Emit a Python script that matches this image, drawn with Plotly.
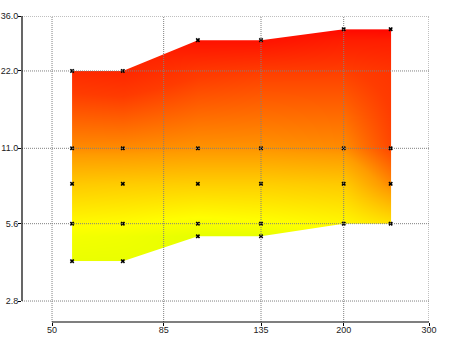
import plotly.graph_objects as go
import math

# ---- data ----
x_ticks = [50, 85, 135, 200, 300]
x_ticktext = ["50", "85", "135", "200", "300"]
y_ticks = [2.8, 5.6, 11.0, 22.0, 36.0]
y_ticktext = ["2.8", "5.6", "11.0", "22.0", "36.0"]

col_x = [55, 70, 100, 135, 200, 250]
col_y = [
    [4.0, 5.6, 8.0, 11.0, 22.0],
    [4.0, 5.6, 8.0, 11.0, 22.0],
    [5.0, 5.6, 8.0, 11.0, 29.0],
    [5.0, 5.6, 8.0, 11.0, 29.0],
    [5.6, 8.0, 11.0, 32.0],
    [5.6, 8.0, 11.0, 32.0],
]
col_z = [
    [0.02, 0.13, 0.32, 0.54, 0.83],
    [0.02, 0.12, 0.31, 0.54, 0.85],
    [0.00, 0.08, 0.30, 0.52, 0.95],
    [0.00, 0.10, 0.30, 0.52, 0.95],
    [0.14, 0.32, 0.54, 0.99],
    [0.22, 0.55, 0.72, 1.00],
]

colorscale = [
    [0.0, "#e6ff00"],
    [0.12, "#ffff00"],
    [0.30, "#ffd000"],
    [0.50, "#ff9c00"],
    [0.75, "#ff3c00"],
    [1.0, "#ff0800"],
]

x_range = [1.637, math.log10(300)]
y_range = [0.3655, math.log10(36)]

# flatten points
px, py, pz = [], [], []
for xv, ys, zs in zip(col_x, col_y, col_z):
    for yv, zv in zip(ys, zs):
        px.append(xv)
        py.append(yv)
        pz.append(zv)

top_y = [max(ys) for ys in col_y]
bot_y = [min(ys) for ys in col_y]
x_lo = 10 ** x_range[0]
x_hi = 10 ** x_range[1]
y_lo = 10 ** y_range[0]
y_hi = 10 ** y_range[1]

fig = go.Figure()

fig.add_trace(go.Contour(
    x=px, y=py, z=pz,
    colorscale=colorscale, zmin=0, zmax=1,
    contours=dict(coloring="heatmap", start=0, end=1, size=0.5),
    line=dict(width=0),
    showscale=False, hoverinfo="skip",
))

# white masks outside the sampled hull
mask_x = [x_lo] + col_x + [x_hi, x_hi, x_lo]
fig.add_trace(go.Scatter(
    x=mask_x,
    y=[top_y[0]] + top_y + [top_y[-1], y_hi, y_hi],
    fill="toself", fillcolor="white", mode="lines",
    line=dict(width=0, color="white"), hoverinfo="skip",
))
fig.add_trace(go.Scatter(
    x=mask_x,
    y=[bot_y[0]] + bot_y + [bot_y[-1], y_lo, y_lo],
    fill="toself", fillcolor="white", mode="lines",
    line=dict(width=0, color="white"), hoverinfo="skip",
))

fig.add_trace(go.Scatter(
    x=px, y=py, mode="markers",
    marker=dict(symbol="x", size=4, color="black", line=dict(width=0)),
    hoverinfo="skip",
))

shapes = []
grid = dict(color="#808080", width=1, dash="1px,1px")
for xv in x_ticks:
    shapes.append(dict(type="line", xref="x", yref="paper", x0=xv, x1=xv,
                       y0=0, y1=1, line=grid, layer="above"))
for yv in y_ticks:
    shapes.append(dict(type="line", xref="paper", yref="y", x0=0, x1=1,
                       y0=yv, y1=yv, line=grid, layer="above"))
# range-frame axis lines
shapes.append(dict(type="line", xref="paper", yref="y", x0=0, x1=0,
                   y0=y_ticks[0], y1=y_ticks[-1],
                   line=dict(color="black", width=1.2), layer="above"))
shapes.append(dict(type="line", xref="x", yref="paper", x0=x_ticks[0], x1=x_ticks[-1],
                   y0=0, y1=0,
                   line=dict(color="black", width=1.2), layer="above"))

font = dict(family="Liberation Sans, Arial", size=9, color="#222222")

fig.update_layout(
    width=450, height=337,
    margin=dict(l=22, r=21, t=16, b=15),
    paper_bgcolor="white", plot_bgcolor="white",
    showlegend=False,
    shapes=shapes,
    font=font,
    xaxis=dict(type="log", range=x_range, tickvals=x_ticks, ticktext=x_ticktext,
               showgrid=False, zeroline=False, showline=False, automargin=False,
               ticks="outside", ticklen=3, tickcolor="black", tickfont=font,
               ticklabelstandoff=-4),
    yaxis=dict(type="log", range=y_range, tickvals=y_ticks, ticktext=y_ticktext,
               showgrid=False, zeroline=False, showline=False, automargin=False,
               ticks="outside", ticklen=3, tickcolor="black", tickfont=font,
               ticklabelstandoff=-2),
)

fig.write_html("out.html", config={"displayModeBar": False},
               post_script="document.body.style.margin='0';document.body.style.padding='0';")
